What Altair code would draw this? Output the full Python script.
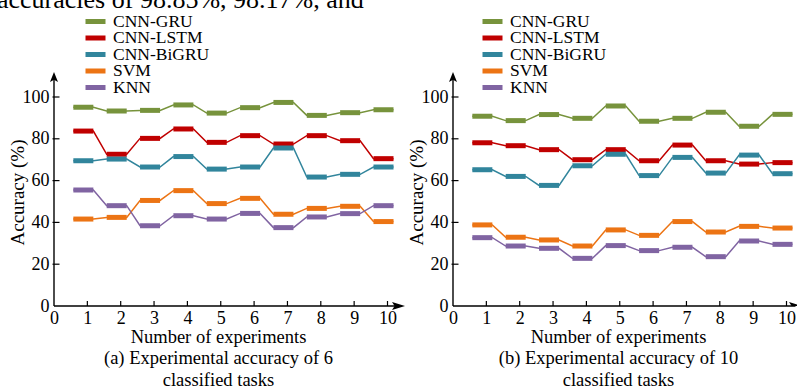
import altair as alt
import pandas as pd

# ---------------- data ----------------
experiments = [1, 2, 3, 4, 5, 6, 7, 8, 9, 10]
series_names = ["CNN-GRU", "CNN-LSTM", "CNN-BiGRU", "SVM", "KNN"]
series_colors = ["#77933C", "#C00000", "#31859C", "#EC7414", "#8064A2"]

# (a) 6 classified tasks
a_cnn_gru = [95.1, 93.3, 93.6, 96.2, 92.3, 94.9, 97.4, 91.2, 92.5, 93.9]
a_cnn_lstm = [83.7, 72.6, 80.2, 84.7, 78.3, 81.5, 77.5, 81.5, 79.1, 70.5]
a_cnn_bigru = [69.5, 70.3, 66.5, 71.5, 65.5, 66.5, 75.6, 61.7, 63.0, 66.5]
a_svm = [41.6, 42.4, 50.5, 55.2, 49.0, 51.5, 43.9, 46.7, 47.7, 40.4]
a_knn = [55.5, 48.0, 38.4, 43.2, 41.6, 44.3, 37.5, 42.6, 44.2, 48.0]

# (b) 10 classified tasks
b_cnn_gru = [90.8, 88.7, 91.6, 89.8, 95.7, 88.4, 89.8, 92.7, 86.0, 91.7]
b_cnn_lstm = [78.1, 76.7, 74.8, 70.0, 74.8, 69.5, 77.0, 69.5, 67.9, 68.6]
b_cnn_bigru = [65.2, 62.0, 57.7, 67.1, 72.6, 62.4, 71.1, 63.6, 72.2, 63.3]
b_svm = [38.8, 32.9, 31.6, 28.7, 36.4, 33.8, 40.4, 35.4, 38.1, 37.3]
b_knn = [32.7, 28.7, 27.6, 22.8, 28.9, 26.5, 28.1, 23.6, 31.1, 29.5]

x_tick_values = [0, 1, 2, 3, 4, 5, 6, 7, 8, 9, 10]
y_tick_values = [0, 20, 40, 60, 80, 100]
x_tick_marks = [1, 2, 3, 4, 5, 6, 7, 8, 9, 10]
y_tick_marks = [20, 40, 60, 80, 100]

caption_a = ["Number of experiments", "(a) Experimental accuracy of 6", "classified tasks"]
caption_b = ["Number of experiments", "(b) Experimental accuracy of 10", "classified tasks"]
y_title = "Accuracy (%)"
cut_text = ["accuracies of 98.85%, 98.17%, and"]

# ---------------- style ----------------
FONT = "Liberation Serif"
PX_X = 33.35          # pixels per experiment
PX_Y = 2.09           # pixels per accuracy point
HEIGHT = 306          # plot height (0 .. top of panel)
SEG_LEFT, SEG_RIGHT = -0.42, 0.18
UP_ARROW = "M0,-1L0.8,1L0,0.55L-0.8,1Z"
RIGHT_ARROW = "M1,0L-1,-0.62L-0.6,0L-1,0.62Z"


def make_panel(values, caption, origin, width, legend_x, x_arrow, arrow_clip, top_text):
    xscale = alt.Scale(domain=[-origin / PX_X, (width - origin) / PX_X], nice=False, zero=False)
    yscale = alt.Scale(domain=[0, HEIGHT / PX_Y], nice=False, zero=False)

    line_rows, seg_rows = [], []
    for name, vals in zip(series_names, values):
        for e, v in zip(experiments, vals):
            line_rows.append({"series": name, "x": e + SEG_LEFT, "v": v})
            line_rows.append({"series": name, "x": e + SEG_RIGHT, "v": v})
            seg_rows.append({"series": name, "x1": e + SEG_LEFT, "x2": e + SEG_RIGHT, "v": v})
    line_df = pd.DataFrame(line_rows)
    seg_df = pd.DataFrame(seg_rows)

    legend = alt.Legend(
        title=None, orient="none", legendX=legend_x, legendY=14, padding=0,
        symbolType="stroke", symbolSize=400, symbolStrokeWidth=5, clipHeight=15,
        rowPadding=-1.5, labelFont=FONT, labelFontSize=17.5, labelColor="black",
        labelOffset=5, labelLimit=300,
    )
    color = alt.Color("series:N", scale=alt.Scale(domain=series_names, range=series_colors),
                      legend=legend, sort=series_names)

    x_axis = alt.Axis(
        values=x_tick_values, domain=False, ticks=False, tickSize=0, grid=False,
        labelFont=FONT, labelFontSize=18, labelColor="black", labelPadding=3,
        labelFlush=False, labelOverlap=False,
        title=caption, titleFont=FONT, titleFontSize=18.5, titleFontWeight="normal",
        titleColor="black", titleLineHeight=21.5, titleX=218, titleY=21,
        titleBaseline="top", titleAlign="center",
    )
    y_axis = alt.Axis(
        values=y_tick_values, offset=-origin, domain=False, ticks=False, tickSize=0,
        grid=False, labelFont=FONT, labelFontSize=18, labelColor="black", labelPadding=5,
        title=y_title, titleFont=FONT, titleFontSize=19, titleFontWeight="normal",
        titleColor="black", titleAngle=270, titleX=-37, titleY=192,
        titleBaseline="middle", titleAlign="center",
    )

    def X(field=None, datum=None):
        if datum is not None:
            return alt.X(datum=datum, scale=xscale, axis=x_axis)
        return alt.X(field, type="quantitative", scale=xscale, axis=x_axis)

    def Y(field=None, datum=None):
        if datum is not None:
            return alt.Y(datum=datum, scale=yscale, axis=y_axis)
        return alt.Y(field, type="quantitative", scale=yscale, axis=y_axis)

    lines = alt.Chart(line_df).mark_line(strokeWidth=1.5).encode(
        x=X("x"), y=Y("v"), color=color, order="x:Q",
    )
    segs = alt.Chart(seg_df).mark_rule(strokeWidth=5, strokeCap="butt").encode(
        x=X("x1"), x2="x2:Q", y=Y("v"), color=color,
    )
    x_line = alt.Chart().mark_rule(color="black", strokeWidth=1.4).encode(
        x=X(datum=0), x2=alt.X2(datum=x_arrow), y=Y(datum=0),
    )
    y_line = alt.Chart().mark_rule(color="black", strokeWidth=1.4).encode(
        x=X(datum=0), y=Y(datum=0), y2=alt.Y2(datum=109.6),
    )
    x_ticks = alt.Chart(pd.DataFrame({"t": x_tick_marks})).mark_rule(color="black", strokeWidth=1.2).encode(
        x=X("t"), y=Y(datum=0), y2=alt.Y2(datum=5 / PX_Y),
    )
    y_ticks = alt.Chart(pd.DataFrame({"t": y_tick_marks})).mark_rule(color="black", strokeWidth=1.2).encode(
        x=X(datum=-1.5 / PX_X), x2=alt.X2(datum=5.5 / PX_X), y=Y("t"),
    )
    y_head = alt.Chart().mark_point(shape=UP_ARROW, filled=True, color="black", size=100, opacity=1).encode(
        x=X(datum=0), y=Y(datum=109.6),
    )
    x_head = alt.Chart().mark_point(shape=RIGHT_ARROW, filled=True, color="black", size=169,
                                    opacity=1, clip=arrow_clip).encode(
        x=X(datum=x_arrow), y=Y(datum=0),
    )
    layers = [lines, segs, x_line, y_line, x_ticks, y_ticks, y_head, x_head]
    if top_text:
        layers.append(
            alt.Chart(pd.DataFrame({"label": cut_text})).mark_text(
                align="left", baseline="alphabetic", font=FONT, fontSize=26,
                color="black", clip=True,
            ).encode(text="label:N", x=alt.value(-3), y=alt.value(8))
        )
    return alt.layer(*layers).properties(width=width, height=HEIGHT)


left = make_panel([a_cnn_gru, a_cnn_lstm, a_cnn_bigru, a_svm, a_knn], caption_a,
                  origin=54, width=400, legend_x=83, x_arrow=10.33, arrow_clip=False, top_text=True)
right = make_panel([b_cnn_gru, b_cnn_lstm, b_cnn_bigru, b_svm, b_knn], caption_b,
                   origin=53, width=397, legend_x=80, x_arrow=10.27, arrow_clip=True, top_text=False)

chart = (
    alt.hconcat(left, right, spacing=0, bounds="flush")
    .resolve_scale(color="independent")
    .properties(padding=0, background="white")
    .configure_view(strokeWidth=0)
)

chart.save("out.html", embed_options={"renderer": "svg", "actions": False})
